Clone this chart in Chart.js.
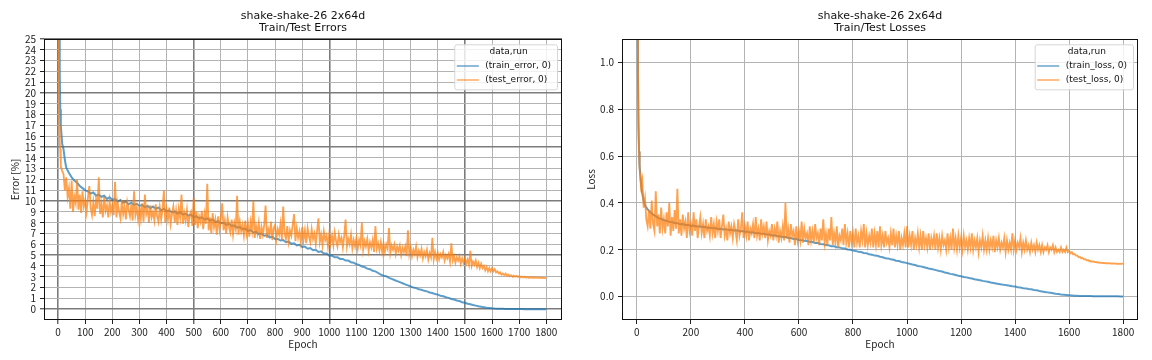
<!DOCTYPE html>
<html><head><meta charset="utf-8">
<script src="https://cdn.jsdelivr.net/npm/chart.js@4"></script>
<style>
html,body{margin:0;padding:0;background:#fff;}
#wrap{position:relative;width:1152px;height:360px;background:#fff;}
canvas{position:absolute;top:0;}
</style></head><body>
<div id="wrap"><canvas id="c1" width="576" height="360" style="left:0"></canvas><canvas id="c2" width="576" height="360" style="left:576px"></canvas></div>
<script>
// epochs for the train series (every 10 epochs after the first few)
const trainEpochs = [0,2,4,6,8,10,15,20,25,30,
40,50,60,70,80,90,100,110,120,130,
140,150,160,170,180,190,200,210,220,230,
240,250,260,270,280,290,300,310,320,330,
340,350,360,370,380,390,400,410,420,430,
440,450,460,470,480,490,500,510,520,530,
540,550,560,570,580,590,600,610,620,630,
640,650,660,670,680,690,700,710,720,730,
740,750,760,770,780,790,800,810,820,830,
840,850,860,870,880,890,900,910,920,930,
940,950,960,970,980,990,1000,1010,1020,1030,
1040,1050,1060,1070,1080,1090,1100,1110,1120,1130,
1140,1150,1160,1170,1180,1190,1200,1210,1220,1230,
1240,1250,1260,1270,1280,1290,1300,1310,1320,1330,
1340,1350,1360,1370,1380,1390,1400,1410,1420,1430,
1440,1450,1460,1470,1480,1490,1500,1510,1520,1530,
1540,1550,1560,1570,1580,1590,1600,1610,1620,1630,
1640,1650,1660,1670,1680,1690,1700,1710,1720,1730,
1740,1750,1760,1770,1780,1790,1800];

// epochs for the (noisier) test series (every 5 epochs)
const testEpochs = [0,2,4,6,8,
10,15,20,25,30,35,
40,45,50,55,60,65,70,75,80,85,90,95,
100,105,110,115,120,125,130,135,140,145,150,155,160,165,170,175,180,185,190,195,
200,205,210,215,220,225,230,235,240,245,250,255,260,265,270,275,280,285,290,295,
300,305,310,315,320,325,330,335,340,345,350,355,360,365,370,375,380,385,390,395,
400,405,410,415,420,425,430,435,440,445,450,455,460,465,470,475,480,485,490,495,
500,505,510,515,520,525,530,535,540,545,550,555,560,565,570,575,580,585,590,595,
600,605,610,615,620,625,630,635,640,645,650,655,660,665,670,675,680,685,690,695,
700,705,710,715,720,725,730,735,740,745,750,755,760,765,770,775,780,785,790,795,
800,805,810,815,820,825,830,835,840,845,850,855,860,865,870,875,880,885,890,895,
900,905,910,915,920,925,930,935,940,945,950,955,960,965,970,975,980,985,990,995,
1000,1005,1010,1015,1020,1025,1030,1035,1040,1045,1050,1055,1060,1065,1070,1075,1080,1085,1090,1095,
1100,1105,1110,1115,1120,1125,1130,1135,1140,1145,1150,1155,1160,1165,1170,1175,1180,1185,1190,1195,
1200,1205,1210,1215,1220,1225,1230,1235,1240,1245,1250,1255,1260,1265,1270,1275,1280,1285,1290,1295,
1300,1305,1310,1315,1320,1325,1330,1335,1340,1345,1350,1355,1360,1365,1370,1375,1380,1385,1390,1395,
1400,1405,1410,1415,1420,1425,1430,1435,1440,1445,1450,1455,1460,1465,1470,1475,1480,1485,1490,1495,
1500,1505,1510,1515,1520,1525,1530,1535,1540,1545,1550,1555,1560,1565,1570,1575,1580,1585,1590,1595,
1600,1605,1610,1615,1620,1625,1630,1635,1640,1645,1650,1655,1660,1665,1670,1675,1680,1685,1690,1695,
1700,1705,1710,1715,1720,1725,1730,1735,1740,1745,1750,1755,1760,1765,1770,1775,1780,1785,1790,1795,
1800];

const trainError = [82,50,30,22,18.5,17,15.3,14.8,13.8,13.1,
12.6,12.2,11.9,11.7,11.4,11.2,11.0,10.9,10.7,10.8,
10.5,10.6,10.4,10.5,10.2,10.35,10.1,10.2,9.95,10.1,
9.85,9.95,9.7,9.85,9.65,9.75,9.55,9.65,9.45,9.55,
9.35,9.5,9.3,9.4,9.15,9.3,9.05,9.15,8.95,9.05,
8.85,8.95,8.75,8.85,8.65,8.75,8.5,8.6,8.4,8.5,
8.3,8.4,8.2,8.3,8.05,8.15,7.95,8.0,7.8,7.9,
7.7,7.75,7.55,7.6,7.4,7.45,7.25,7.3,7.1,7.15,
6.95,7.0,6.8,6.85,6.65,6.7,6.5,6.5,6.35,6.4,
6.2,6.25,6.05,6.1,5.9,5.95,5.75,5.8,5.6,5.65,
5.45,5.5,5.3,5.35,5.15,5.15,4.95,4.95,4.8,4.8,
4.65,4.65,4.5,4.5,4.35,4.3,4.15,4.1,3.95,3.9,
3.75,3.7,3.55,3.5,3.35,3.2,3.1,3.05,2.9,2.8,
2.7,2.6,2.5,2.4,2.3,2.2,2.1,2.0,1.95,1.85,
1.8,1.7,1.65,1.55,1.5,1.4,1.35,1.25,1.2,1.1,
1.05,0.95,0.9,0.8,0.75,0.65,0.6,0.5,0.45,0.38,
0.33,0.27,0.22,0.18,0.14,0.11,0.08,0.06,0.05,0.04,
0.03,0.025,0.02,0.015,0.012,0.01,0.008,0.007,0.006,0.005,
0.004,0.004,0.003,0.003,0.003,0.002,0.002];

const testError = [88,30,17,15.5,14.8,
13.2,12.8,12.5,11.0,12.2,10.4,
11.2,9.3,11.9,9.0,10.4,9.8,12.0,9.2,10.6,8.9,10.9,9.5,
10.1,9.0,10.3,11.4,9.4,8.7,9.9,8.6,10.2,9.3,12.2,8.8,9.7,8.5,10.4,9.1,9.6,8.5,10.0,9.0,
9.6,8.7,11.8,8.5,9.8,9.0,8.4,10.1,8.8,9.5,8.3,9.9,9.2,8.6,9.7,8.2,10.9,8.7,9.4,8.3,
9.5,8.4,9.8,8.1,10.6,8.8,9.3,8.0,9.6,8.5,9.0,8.2,9.7,8.6,8.1,9.4,8.3,9.2,11.0,8.0,
9.2,8.3,9.4,7.9,8.8,9.5,8.0,9.1,7.8,9.3,8.5,10.6,7.9,8.9,8.2,9.2,7.6,8.7,9.0,7.7,
10.3,7.8,9.0,7.5,8.6,8.1,9.1,7.4,8.8,7.9,11.6,7.3,8.5,7.0,8.9,7.6,8.3,6.9,8.6,7.4,
8.4,9.8,7.3,8.2,7.0,8.5,7.6,7.1,8.3,6.9,8.0,7.4,10.5,6.9,8.1,7.2,7.8,6.8,8.2,7.0,
7.9,6.7,8.1,7.3,10.0,6.6,7.7,7.0,8.0,6.5,7.6,6.9,7.8,9.6,6.6,7.4,6.9,8.1,6.4,7.5,
7.8,6.5,7.4,6.9,7.9,6.4,9.5,7.0,6.5,7.7,6.3,7.3,6.8,7.8,8.8,6.3,7.5,6.6,7.2,6.2,
7.6,6.4,7.3,6.1,7.5,6.7,6.2,7.4,6.5,7.0,6.0,7.3,8.4,6.2,6.9,5.9,7.2,6.4,6.8,5.8,
7.0,6.1,6.8,5.9,7.1,6.3,5.8,6.9,6.2,6.6,5.7,6.8,8.3,5.8,6.5,6.0,6.9,5.6,6.4,5.8,
6.6,5.6,6.4,5.9,8.0,5.5,6.3,5.8,6.5,5.4,6.2,5.7,6.4,5.3,7.7,5.6,6.1,5.4,6.2,5.3,
6.1,5.3,6.0,5.6,7.5,5.2,5.9,5.5,6.0,5.1,5.8,5.4,5.9,5.0,5.7,5.3,5.8,4.9,7.3,5.1,
5.7,4.9,5.5,5.1,5.8,4.8,5.4,5.0,5.6,4.7,5.3,4.9,5.5,4.6,5.2,4.8,6.6,4.6,5.3,4.7,
5.2,4.6,5.1,4.8,5.3,4.5,5.0,4.7,5.1,4.4,6.1,4.5,4.9,4.3,4.8,4.5,4.9,4.2,4.7,4.3,
4.7,4.2,4.6,4.1,5.4,4.0,4.4,4.1,4.5,3.9,4.3,3.8,4.2,3.8,4.0,3.6,3.9,3.5,3.8,3.5,
3.8,3.5,3.7,3.4,3.5,3.3,3.4,3.2,3.3,3.15,3.3,3.1,3.2,3.05,3.15,3.0,3.1,3.0,3.08,2.98,
3.05,2.95,3.02,2.93,3.0,2.92,2.98,2.9,2.97,2.91,2.95,2.89,2.94,2.9,2.93,2.88,2.92,2.89,2.91,2.88,
2.9];

const trainLoss = [2.3,1.5,0.95,0.72,0.62,0.56,0.49,0.44,0.41,0.39,
0.372,0.36,0.35,0.343,0.335,0.332,0.326,0.324,0.319,0.318,
0.314,0.313,0.309,0.31,0.306,0.306,0.302,0.303,0.299,0.3,
0.297,0.298,0.294,0.295,0.292,0.293,0.289,0.29,0.287,0.288,
0.284,0.285,0.282,0.283,0.279,0.28,0.277,0.277,0.274,0.275,
0.271,0.272,0.268,0.268,0.265,0.265,0.261,0.262,0.258,0.258,
0.254,0.254,0.25,0.25,0.246,0.246,0.242,0.241,0.238,0.237,
0.234,0.233,0.229,0.229,0.225,0.224,0.22,0.219,0.215,0.215,
0.211,0.21,0.206,0.205,0.201,0.2,0.197,0.195,0.191,0.19,
0.186,0.185,0.181,0.179,0.175,0.174,0.17,0.168,0.164,0.163,
0.159,0.157,0.153,0.152,0.148,0.146,0.143,0.14,0.137,0.135,
0.131,0.129,0.126,0.123,0.12,0.118,0.115,0.112,0.109,0.107,
0.103,0.101,0.097,0.095,0.092,0.089,0.087,0.084,0.082,0.079,
0.077,0.074,0.072,0.07,0.067,0.065,0.063,0.06,0.058,0.056,
0.054,0.052,0.05,0.048,0.046,0.044,0.043,0.04,0.039,0.036,
0.035,0.032,0.031,0.028,0.027,0.024,0.022,0.02,0.018,0.016,
0.014,0.012,0.011,0.009,0.008,0.007,0.006,0.005,0.004,0.004,
0.003,0.003,0.0025,0.002,0.002,0.0018,0.0015,0.0014,0.0013,0.0012,
0.0011,0.001,0.001,0.0009,0.0009,0.0008,0.0008];

const testLoss = [2.5,1.6,1.0,0.75,0.62,
0.55,0.47,0.50,0.38,0.42,0.33,
0.30,0.37,0.29,0.41,0.31,0.28,0.45,0.30,0.35,0.27,0.38,0.29,
0.33,0.27,0.36,0.30,0.40,0.26,0.34,0.28,0.37,0.29,0.46,0.27,0.33,0.26,0.35,0.29,0.32,0.25,0.36,0.28,
0.31,0.26,0.36,0.28,0.33,0.25,0.30,0.34,0.27,0.31,0.25,0.33,0.28,0.30,0.26,0.34,0.27,0.31,0.25,0.32,
0.28,0.33,0.25,0.30,0.35,0.26,0.29,0.24,0.32,0.27,0.30,0.25,0.31,0.28,0.24,0.33,0.26,0.29,0.36,0.25,
0.30,0.26,0.32,0.24,0.29,0.27,0.31,0.25,0.34,0.26,0.29,0.24,0.33,0.27,0.30,0.25,0.32,0.24,0.28,0.26,
0.31,0.24,0.29,0.26,0.32,0.23,0.28,0.25,0.30,0.24,0.40,0.25,0.29,0.23,0.31,0.26,0.28,0.22,0.30,0.24,
0.28,0.24,0.32,0.23,0.29,0.25,0.27,0.22,0.30,0.24,0.28,0.23,0.31,0.25,0.27,0.22,0.29,0.24,0.33,0.23,
0.27,0.22,0.29,0.24,0.34,0.22,0.27,0.23,0.30,0.21,0.26,0.24,0.29,0.22,0.31,0.23,0.27,0.21,0.28,0.23,
0.27,0.21,0.29,0.23,0.26,0.21,0.28,0.24,0.31,0.21,0.27,0.22,0.26,0.23,0.29,0.21,0.27,0.22,0.28,0.21,
0.30,0.22,0.26,0.21,0.28,0.23,0.25,0.21,0.27,0.22,0.29,0.21,0.26,0.22,0.28,0.20,0.25,0.22,0.27,0.21,
0.30,0.21,0.26,0.22,0.28,0.20,0.25,0.22,0.27,0.21,0.26,0.20,0.28,0.22,0.25,0.21,0.27,0.20,0.25,0.22,
0.26,0.20,0.27,0.21,0.25,0.20,0.26,0.22,0.24,0.20,0.27,0.21,0.25,0.20,0.29,0.21,0.25,0.20,0.26,0.21,
0.25,0.20,0.26,0.21,0.24,0.20,0.25,0.21,0.27,0.20,0.24,0.21,0.25,0.19,0.24,0.21,0.26,0.20,0.24,0.20,
0.25,0.20,0.24,0.21,0.26,0.19,0.24,0.21,0.25,0.20,0.23,0.21,0.25,0.19,0.24,0.20,0.23,0.20,0.27,0.20,
0.24,0.20,0.23,0.21,0.25,0.19,0.23,0.20,0.24,0.20,0.22,0.19,0.23,0.20,0.22,0.19,0.23,0.20,0.22,0.19,
0.22,0.19,0.21,0.20,0.22,0.19,0.21,0.20,0.22,0.19,0.21,0.19,0.20,0.19,0.21,0.19,0.20,0.19,0.21,0.19,
0.195,0.185,0.19,0.18,0.182,0.175,0.176,0.168,0.17,0.163,0.165,0.159,0.16,0.155,0.156,0.151,0.152,0.149,0.15,0.147,
0.148,0.145,0.146,0.144,0.145,0.143,0.144,0.142,0.143,0.142,0.143,0.141,0.142,0.141,0.142,0.14,0.141,0.14,0.141,0.14,
0.141];

const errTicksY = [0,1,2,3,4,5,6,7,8,9,10,11,12,13,14,15,16,17,18,19,20,21,22,23,24,25];
const errTicksX = [0,100,200,300,400,500,600,700,800,900,1000,1100,1200,1300,1400,1500,1600,1700,1800];
const lossTicksY = [0,0.2,0.4,0.6,0.8,1.0];
const lossTicksX = [0,200,400,600,800,1000,1200,1400,1600,1800];

const FONT = '"Noto Sans CJK JP", "DejaVu Sans", sans-serif';
const TFONT = '"DejaVu Sans", sans-serif';
Chart.defaults.font.family = FONT;
Chart.defaults.color = '#222';

const BLUE = 'rgba(31,119,180,0.72)';
const ORANGE = 'rgba(255,127,14,0.74)';

function pts(xs, ys){ return xs.map((e,i)=>({x:e,y:ys[i]})); }

const figPlugin = {
  id: 'fig',
  afterDraw(chart, args, o) {
    const {ctx, chartArea: a} = chart;
    ctx.save();
    ctx.strokeStyle = '#111'; ctx.lineWidth = 1;
    ctx.strokeRect(Math.round(a.left)+0.5, Math.round(a.top)+0.5, Math.round(a.right-a.left)-1, Math.round(a.bottom-a.top)-1);
    ctx.fillStyle = '#111';
    ctx.font = '11px ' + TFONT;
    ctx.textAlign = 'center'; ctx.textBaseline = 'middle';
    const cx = (a.left + a.right) / 2;
    ctx.fillText(o.title[0], cx, 16);
    ctx.fillText(o.title[1], cx, 28.3);
    ctx.font = '9px ' + TFONT;
    let mw = 0;
    o.labels.forEach(l => { mw = Math.max(mw, ctx.measureText(l).width); });
    const bw = mw + 37, bh = 45;
    const bx = a.right - 5 - bw, by = a.top + 5.3;
    ctx.beginPath();
    if (ctx.roundRect) ctx.roundRect(bx+0.5, by+0.5, bw, bh, 2); else ctx.rect(bx+0.5, by+0.5, bw, bh);
    ctx.fillStyle = 'rgba(255,255,255,0.8)'; ctx.fill();
    ctx.strokeStyle = '#d6d6d6'; ctx.lineWidth = 1; ctx.stroke();
    ctx.fillStyle = '#111';
    ctx.textAlign = 'center';
    ctx.fillText(o.legendTitle, bx + bw/2 + 3, a.top + 13);
    ctx.textAlign = 'left';
    const cols = ['rgba(31,119,180,0.5)', 'rgba(255,127,14,0.5)'];
    o.labels.forEach((l, i) => {
      const y = a.top + 27 + i*14;
      ctx.strokeStyle = cols[i]; ctx.lineWidth = 2;
      ctx.beginPath(); ctx.moveTo(bx + 2.5, y); ctx.lineTo(bx + 24.5, y); ctx.stroke();
      ctx.fillStyle = '#111';
      ctx.fillText(l, bx + 31, y);
    });
    ctx.restore();
  }
};

function makeChart(id, cfg) {
  return new Chart(document.getElementById(id), {
    type: 'line',
    data: {
      datasets: [
        {label: cfg.labels[0], data: pts(trainEpochs, cfg.train), borderColor: BLUE, borderWidth: 2, pointRadius: 0, tension: 0, order: 1},
        {label: cfg.labels[1], data: pts(testEpochs, cfg.test), borderColor: ORANGE, borderWidth: 1.8, pointRadius: 0, tension: 0, order: 0}
      ]
    },
    options: {
      responsive: false, animation: false, devicePixelRatio: 1,
      layout: {padding: {top: 39, right: 14, left: 0, bottom: 0}},
      plugins: {legend: {display: false}, tooltip: {enabled: false}, title: {display: false},
        fig: {title: cfg.title, labels: cfg.labels, legendTitle: 'data,run'}},
      scales: {
        x: {
          type: 'linear', min: cfg.xmin, max: cfg.xmax,
          afterBuildTicks: s => { s.ticks = cfg.xticks.map(v => ({value: v})); },
          afterFit: s => { s.height = 40; },
          ticks: {autoSkip: false, maxRotation: 0, padding: 2, font: {size: 10}, color: '#222', callback: v => String(v)},
          grid: {
            color: c => cfg.major && c.tick && c.tick.value % cfg.major.x === 0 ? '#7c7c7c' : '#b3b3b3',
            lineWidth: c => cfg.major && c.tick && c.tick.value % cfg.major.x === 0 ? 1.6 : 1,
            tickColor: '#222', tickLength: 4, tickWidth: 1
          },
          border: {display: false},
          title: {display: true, text: 'Epoch', font: {size: 10}, color: '#222', padding: {top: 0, bottom: 10}}
        },
        y: {
          type: 'linear', min: cfg.ymin, max: cfg.ymax,
          afterBuildTicks: s => { s.ticks = cfg.yticks.map(v => ({value: v})); },
          afterFit: s => { s.width = cfg.ywidth; },
          ticks: {autoSkip: false, padding: 4, font: {size: 10}, color: '#222', callback: cfg.yfmt},
          grid: {
            color: c => cfg.major && c.tick && c.tick.value % cfg.major.y === 0 ? '#7c7c7c' : '#b3b3b3',
            lineWidth: c => cfg.major && c.tick && c.tick.value % cfg.major.y === 0 ? 1.6 : 1,
            tickColor: '#222', tickLength: 4, tickWidth: 1
          },
          border: {display: false},
          title: {display: true, text: cfg.ytitle, font: {size: 10}, color: '#222', padding: {top: 9, bottom: 0}}
        }
      }
    },
    plugins: [figPlugin]
  });
}

makeChart('c1', {
  train: trainError, test: testError,
  labels: ['(train_error, 0)', '(test_error, 0)'],
  title: ['shake-shake-26 2x64d', 'Train/Test Errors'],
  xmin: -52, xmax: 1858, ymin: -1, ymax: 25,
  xticks: errTicksX, yticks: errTicksY, ywidth: 44,
  major: {x: 500, y: 5}, ytitle: 'Error [%]', yfmt: v => String(v)
});
makeChart('c2', {
  train: trainLoss, test: testLoss,
  labels: ['(train_loss, 0)', '(test_loss, 0)'],
  title: ['shake-shake-26 2x64d', 'Train/Test Losses'],
  xmin: -55, xmax: 1855, ymin: -0.1, ymax: 1.1,
  xticks: lossTicksX, yticks: lossTicksY, ywidth: 46,
  major: null, ytitle: 'Loss', yfmt: v => Number(v).toFixed(1)
});
</script>
</body></html>
